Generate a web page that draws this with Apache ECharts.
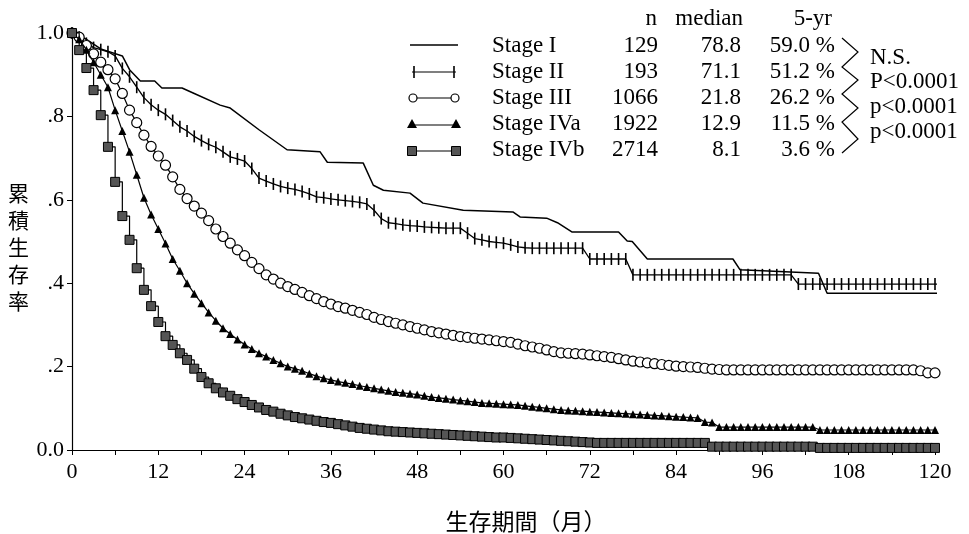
<!DOCTYPE html>
<html>
<head>
<meta charset="utf-8">
<script src="https://cdn.jsdelivr.net/npm/echarts@6/dist/echarts.min.js"></script>
<style>
html, body { margin: 0; padding: 0; background: #fff; }
#main { width: 969px; height: 534px; }
</style>
</head>
<body>
<div id="main"></div>
<script>
// legend table
var stages = ['Stage I', 'Stage II', 'Stage III', 'Stage IVa', 'Stage IVb'];
var nCases = [129, 193, 1066, 1922, 2714];
var medians = ['78.8', '71.1', '21.8', '12.9', '8.1'];
var fiveYear = ['59.0', '51.2', '26.2', '11.5', '3.6'];
var pValues = ['N.S.', 'P<0.0001', 'p<0.0001', 'p<0.0001'];

// follow-up months where the markers sit
var months = [
  0, 1, 2, 3, 4, 5, 6, 7, 8, 9, 10, 11, 12, 13, 14, 15, 16, 17, 18, 19,
  20, 21, 22, 23, 24, 25, 26, 27, 28, 29, 30, 31, 32, 33, 34, 35, 36, 37, 38, 39,
  40, 41, 42, 43, 44, 45, 46, 47, 48, 49, 50, 51, 52, 53, 54, 55, 56, 57, 58, 59,
  60, 61, 62, 63, 64, 65, 66, 67, 68, 69, 70, 71, 72, 73, 74, 75, 76, 77, 78, 79,
  80, 81, 82, 83, 84, 85, 86, 87, 88, 89, 90, 91, 92, 93, 94, 95, 96, 97, 98, 99,
  100, 101, 102, 103, 104, 105, 106, 107, 108, 109, 110, 111, 112, 113, 114, 115, 116, 117, 118, 119,
  120
];
var tailMonth = 122.3;

// Stage I: plain line, [month, survival]
var stageI = [
  [0, 1.0], [2, 0.985], [4, 0.962], [7, 0.945], [8, 0.912], [9.5, 0.885], [11.5, 0.885],
  [12.5, 0.868], [15.3, 0.868], [17, 0.855], [20.6, 0.827], [22, 0.82], [26, 0.768],
  [29.9, 0.72], [34.5, 0.715], [35.5, 0.69], [40.5, 0.688], [41.9, 0.635], [43.3, 0.623],
  [47, 0.616], [48.8, 0.592], [54.4, 0.575], [61.3, 0.571], [62.3, 0.559], [66, 0.556],
  [67.5, 0.545], [69.5, 0.523], [76, 0.523], [77.2, 0.501], [77.9, 0.5], [80, 0.458],
  [91.9, 0.458], [92.9, 0.432], [103.8, 0.424], [105, 0.376], [122.3, 0.376]
];

var stageII = [
  1.0, 0.99, 0.975, 0.965, 0.96, 0.955, 0.945, 0.915, 0.895, 0.87,
  0.845, 0.828, 0.815, 0.805, 0.79, 0.775, 0.765, 0.752, 0.742, 0.733,
  0.726, 0.715, 0.703, 0.698, 0.693, 0.675, 0.652, 0.645, 0.638, 0.632,
  0.628, 0.625, 0.62, 0.614, 0.607, 0.605, 0.602, 0.6, 0.598, 0.596,
  0.594, 0.59, 0.575, 0.555, 0.545, 0.543, 0.54, 0.538, 0.537, 0.535,
  0.534, 0.533, 0.532, 0.532, 0.532, 0.52, 0.507, 0.504, 0.5, 0.498,
  0.496, 0.492, 0.487, 0.485, 0.484, 0.484, 0.484, 0.484, 0.484, 0.484,
  0.484, 0.484, 0.458, 0.458, 0.458, 0.458, 0.458, 0.458, 0.42, 0.42,
  0.42, 0.42, 0.42, 0.42, 0.42, 0.42, 0.42, 0.42, 0.42, 0.42,
  0.42, 0.42, 0.42, 0.42, 0.42, 0.42, 0.42, 0.42, 0.42, 0.42,
  0.42, 0.398, 0.398, 0.398, 0.398, 0.398, 0.398, 0.398, 0.398, 0.398,
  0.398, 0.398, 0.398, 0.398, 0.398, 0.398, 0.398, 0.398, 0.398, 0.398,
  0.398
];

var stageIII = [
  1.0, 0.99, 0.97, 0.95, 0.93, 0.912, 0.89, 0.855, 0.815, 0.785,
  0.755, 0.728, 0.705, 0.683, 0.655, 0.625, 0.603, 0.585, 0.568, 0.55,
  0.53, 0.512, 0.496, 0.48, 0.466, 0.45, 0.435, 0.42, 0.41, 0.4,
  0.392, 0.385, 0.378, 0.37, 0.363, 0.356, 0.35, 0.344, 0.34, 0.335,
  0.33, 0.325, 0.318, 0.313, 0.308, 0.304, 0.3, 0.296, 0.292, 0.288,
  0.284, 0.281, 0.278, 0.275, 0.272, 0.27, 0.268, 0.266, 0.264, 0.262,
  0.26, 0.258, 0.254, 0.25, 0.247, 0.244, 0.24, 0.236, 0.233, 0.232,
  0.231, 0.23, 0.228, 0.226, 0.224, 0.222, 0.219, 0.216, 0.213, 0.211,
  0.209, 0.207, 0.205, 0.203, 0.201, 0.2, 0.199, 0.198, 0.196, 0.194,
  0.193, 0.192, 0.192, 0.192, 0.192, 0.192, 0.192, 0.192, 0.192, 0.192,
  0.192, 0.192, 0.192, 0.192, 0.192, 0.192, 0.192, 0.192, 0.192, 0.192,
  0.192, 0.192, 0.192, 0.192, 0.192, 0.192, 0.192, 0.192, 0.19, 0.185,
  0.185
];

var stageIVa = [
  1.0, 0.985, 0.96, 0.93, 0.9, 0.87, 0.815, 0.765, 0.715, 0.66,
  0.605, 0.565, 0.53, 0.495, 0.458, 0.43, 0.4, 0.375, 0.352, 0.33,
  0.31, 0.292, 0.278, 0.265, 0.253, 0.242, 0.232, 0.224, 0.216, 0.208,
  0.2, 0.195, 0.19, 0.183, 0.177, 0.172, 0.168, 0.164, 0.161, 0.158,
  0.154, 0.151, 0.148, 0.145, 0.142, 0.139, 0.137, 0.135, 0.133, 0.13,
  0.127, 0.125, 0.123, 0.121, 0.119, 0.117, 0.115, 0.113, 0.112, 0.111,
  0.11, 0.109, 0.108, 0.106, 0.104, 0.102, 0.1, 0.098, 0.096, 0.095,
  0.094, 0.093, 0.092, 0.091, 0.09, 0.089, 0.088, 0.087, 0.086, 0.085,
  0.084, 0.083, 0.082, 0.081, 0.08, 0.079, 0.078, 0.077, 0.067, 0.066,
  0.055, 0.055, 0.055, 0.055, 0.055, 0.055, 0.055, 0.055, 0.055, 0.055,
  0.055, 0.055, 0.055, 0.055, 0.048, 0.048, 0.048, 0.048, 0.048, 0.048,
  0.048, 0.048, 0.048, 0.048, 0.048, 0.048, 0.048, 0.048, 0.048, 0.048,
  0.048
];

var stageIVb = [
  1.0, 0.959, 0.916, 0.863, 0.803, 0.727, 0.643, 0.561, 0.504, 0.436,
  0.384, 0.345, 0.307, 0.273, 0.252, 0.232, 0.216, 0.195, 0.175, 0.16,
  0.148, 0.138, 0.13, 0.122, 0.115, 0.108, 0.102, 0.096, 0.092, 0.087,
  0.083, 0.079, 0.076, 0.073, 0.07, 0.067, 0.065, 0.062, 0.059, 0.056,
  0.053, 0.051, 0.049, 0.047, 0.045, 0.044, 0.043, 0.042, 0.041, 0.04,
  0.039, 0.038, 0.037, 0.036, 0.035, 0.034, 0.033, 0.032, 0.031, 0.03,
  0.03, 0.029, 0.028, 0.027, 0.026, 0.025, 0.024, 0.023, 0.022, 0.021,
  0.02, 0.019, 0.018, 0.017, 0.017, 0.017, 0.017, 0.017, 0.017, 0.017,
  0.017, 0.017, 0.017, 0.017, 0.017, 0.017, 0.017, 0.017, 0.017, 0.008,
  0.008, 0.008, 0.008, 0.008, 0.008, 0.008, 0.008, 0.008, 0.008, 0.008,
  0.008, 0.008, 0.008, 0.008, 0.005, 0.005, 0.005, 0.005, 0.005, 0.005,
  0.005, 0.005, 0.005, 0.005, 0.005, 0.005, 0.005, 0.005, 0.005, 0.005,
  0.005
];

var serif = 'Liberation Serif';
var cjk = 'Noto Sans CJK JP';

function monthly(vals) {
  var out = months.map(function (m, i) { return [m, vals[i]]; });
  out.push({ value: [tailMonth, vals[vals.length - 1]], symbol: 'none' });
  return out;
}

// legend samples (line with a marker at each end), drawn beside the legend text
var keyL = 412, keyR = 456;
function keyLine(y) {
  return { type: 'line', shape: { x1: keyL, y1: y, x2: keyR, y2: y }, style: { stroke: '#000', lineWidth: 1.2 } };
}
function keyTri(x, y) {
  return { type: 'polygon', shape: { points: [[x - 5, y + 4], [x, y - 5], [x + 5, y + 4]] }, style: { fill: '#000' } };
}
var legendKeys = [
  { type: 'line', shape: { x1: 410, y1: 45, x2: 458, y2: 45 }, style: { stroke: '#000', lineWidth: 1.4 } },
  keyLine(72),
  { type: 'line', shape: { x1: 414, y1: 66, x2: 414, y2: 78 }, style: { stroke: '#000', lineWidth: 1.6 } },
  { type: 'line', shape: { x1: 454, y1: 66, x2: 454, y2: 78 }, style: { stroke: '#000', lineWidth: 1.6 } },
  keyLine(98),
  { type: 'circle', shape: { cx: keyL + 1, cy: 98, r: 4 }, style: { fill: '#fff', stroke: '#000', lineWidth: 1.2 } },
  { type: 'circle', shape: { cx: keyR - 1, cy: 98, r: 4 }, style: { fill: '#fff', stroke: '#000', lineWidth: 1.2 } },
  keyLine(125),
  keyTri(keyL, 124), keyTri(keyR, 124),
  keyLine(151),
  { type: 'rect', shape: { x: keyL - 4.5, y: 146.5, width: 9, height: 9 }, style: { fill: '#555', stroke: '#000', lineWidth: 1 } },
  { type: 'rect', shape: { x: keyR - 4.5, y: 146.5, width: 9, height: 9 }, style: { fill: '#555', stroke: '#000', lineWidth: 1 } }
];

var chart = echarts.init(document.getElementById('main'));

var option = {
  animation: false,
  backgroundColor: '#fff',
  grid: { left: 72, right: 34, top: 33, bottom: 84 },
  xAxis: {
    type: 'value', min: 0, max: 120, interval: 6,
    axisLine: { lineStyle: { color: '#000', width: 1.2 } },
    axisTick: { length: 5, lineStyle: { color: '#000' } },
    splitLine: { show: false },
    axisLabel: {
      margin: 11, color: '#000', fontFamily: serif, fontSize: 22,
      formatter: function (v) { return v % 12 === 0 ? String(v) : ''; }
    }
  },
  yAxis: {
    type: 'value', min: 0, max: 1, interval: 0.2,
    axisLine: { show: true, lineStyle: { color: '#000', width: 1.2 } },
    axisTick: { show: true, length: 5, lineStyle: { color: '#000' } },
    splitLine: { show: false },
    axisLabel: {
      margin: 8, color: '#000', fontFamily: serif, fontSize: 22,
      formatter: function (v) {
        if (v === 0) return '0.0';
        if (v === 1) return '1.0';
        return v.toFixed(1).replace(/^0/, '');
      }
    }
  },
  legend: {
    orient: 'vertical', left: 405, top: 29, itemWidth: 48, itemHeight: 14, itemGap: 2,
    data: stages.map(function (s) { return { name: s, icon: 'rect' }; }),
    itemStyle: { opacity: 0 },
    lineStyle: { opacity: 0 },
    selectedMode: false,
    textStyle: {
      color: '#000', fontFamily: serif, fontSize: 23, lineHeight: 24,
      rich: {
        s: { width: 28, fontFamily: serif, fontSize: 23 },
        a: { width: 110, align: 'left', fontFamily: serif, fontSize: 23 },
        b: { width: 56, align: 'right', fontFamily: serif, fontSize: 23 },
        c: { width: 83, align: 'right', fontFamily: serif, fontSize: 23 },
        d: { width: 94, align: 'right', fontFamily: serif, fontSize: 23 }
      }
    },
    formatter: function (name) {
      var i = stages.indexOf(name);
      return '{s| }{a|' + name + '}{b|' + nCases[i] + '}{c|' + medians[i] + '}{d|' + fiveYear[i] + ' %}';
    }
  },
  graphic: legendKeys.concat([
    { type: 'text', left: 8, top: 180, style: { text: '累\n積\n生\n存\n率', fontFamily: cjk, fontSize: 21, lineHeight: 27, fill: '#000' } },
    { type: 'text', x: 526, y: 521, style: { text: '生存期間（月）', fontFamily: cjk, fontSize: 23, fill: '#000', align: 'center', verticalAlign: 'middle' } },
    { type: 'text', x: 657, y: 19, style: { text: 'n', fontFamily: serif, fontSize: 23, fill: '#000', align: 'right', verticalAlign: 'middle' } },
    { type: 'text', x: 743, y: 19, style: { text: 'median', fontFamily: serif, fontSize: 23, fill: '#000', align: 'right', verticalAlign: 'middle' } },
    { type: 'text', x: 832, y: 19, style: { text: '5-yr', fontFamily: serif, fontSize: 23, fill: '#000', align: 'right', verticalAlign: 'middle' } },
    {
      type: 'polyline',
      shape: { points: [[842, 38], [858, 52], [842, 67], [858, 80], [842, 94], [858, 108], [842, 122], [858, 139], [842, 153]] },
      style: { stroke: '#000', lineWidth: 1.2, fill: null }
    },
    { type: 'text', x: 870, y: 58, style: { text: pValues[0], fontFamily: serif, fontSize: 23, fill: '#000', verticalAlign: 'middle' } },
    { type: 'text', x: 870, y: 82, style: { text: pValues[1], fontFamily: serif, fontSize: 23, fill: '#000', verticalAlign: 'middle' } },
    { type: 'text', x: 870, y: 107, style: { text: pValues[2], fontFamily: serif, fontSize: 23, fill: '#000', verticalAlign: 'middle' } },
    { type: 'text', x: 870, y: 132, style: { text: pValues[3], fontFamily: serif, fontSize: 23, fill: '#000', verticalAlign: 'middle' } }
  ]),
  series: [
    {
      name: 'Stage I', type: 'line', data: stageI, symbol: 'none', clip: false,
      lineStyle: { color: '#000', width: 1.5 }, itemStyle: { color: '#000' }, z: 2
    },
    {
      name: 'Stage II', type: 'line', data: monthly(stageII), clip: false,
      symbol: 'rect', symbolSize: [1.6, 12], showAllSymbol: true,
      lineStyle: { color: '#000', width: 1.3 }, itemStyle: { color: '#000' }, z: 3
    },
    {
      name: 'Stage III', type: 'line', data: monthly(stageIII), clip: false,
      symbol: 'circle', symbolSize: 10, showAllSymbol: true,
      lineStyle: { color: '#000', width: 1.2 },
      itemStyle: { color: '#fff', borderColor: '#000', borderWidth: 1.2 }, z: 4
    },
    {
      name: 'Stage IVa', type: 'line', data: monthly(stageIVa), clip: false,
      symbol: 'triangle', symbolSize: 8, showAllSymbol: true,
      lineStyle: { color: '#000', width: 1.2 }, itemStyle: { color: '#000' }, z: 5
    },
    {
      name: 'Stage IVb', type: 'line', data: monthly(stageIVb), clip: false, step: 'end',
      symbol: 'rect', symbolSize: 9, showAllSymbol: true,
      lineStyle: { color: '#000', width: 1.2 },
      itemStyle: { color: '#555', borderColor: '#000', borderWidth: 1 }, z: 6
    }
  ]
};

chart.setOption(option);
</script>
</body>
</html>
